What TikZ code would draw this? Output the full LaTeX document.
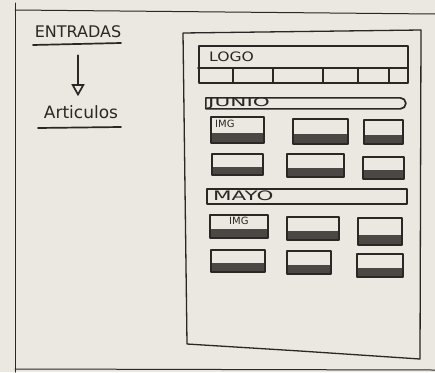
\documentclass[tikz,border=0pt]{standalone}
\usepackage{fontspec}
\usepackage{graphicx}
\setmainfont{DejaVu Sans}
\usetikzlibrary{arrows.meta,calc,shapes.misc}
\definecolor{paper}{HTML}{EAE8E1}
\definecolor{ink}{HTML}{2A2724}
\definecolor{smudge}{HTML}{4B4744}
\tikzset{
  sketch/.style={draw=ink, line width=1.7pt, line join=round, line cap=round},
  thin/.style={draw=ink, line width=1pt, line cap=round},
  hand/.style={font=\fontsize{#1}{#1}\selectfont, text=ink, inner sep=0pt},
  card/.style={sketch, rectangle, anchor=north west, inner sep=0pt,
    path picture={\fill[smudge] (path picture bounding box.south west) rectangle
      ($(path picture bounding box.south east)!0.38!(path picture bounding box.north east)$);}},
  bar/.style={sketch, anchor=north west, inner sep=0pt, minimum width=200pt}
}
\begin{document}
\begin{tikzpicture}[x=1pt, y=-1pt]
\fill[paper] (0,0) rectangle (435,372);
\useasboundingbox (0,0) rectangle (435,372);
% outer sheet
\draw[thin] (15,3) -- (15,372);
\draw[thin] (15,10) -- (435,14);
\draw[thin] (15,369) -- (435,370);
% left column
\node[hand=16] (entradas) at (78,32) {ENTRADAS};
\draw[sketch] (33,45) -- (121,43);
\node[hand=17] (articulos) at (81,112) {Articulos};
\draw[sketch] (38,128) -- (121,127);
\draw[sketch, -{Triangle[open, length=12pt, width=13pt]}, shorten <=17pt, shorten >=9pt]
  (entradas.south) -- (entradas.south |- articulos.north);
% page frame
\draw[sketch, line width=1.3pt] (183,33) -- (421,30) -- (420,359) -- (300,351) -- (187,344) -- cycle;
% header
\node[sketch, anchor=north west, inner sep=0pt, minimum width=209pt, minimum height=37pt] (logo) at (198,45) {};
\draw[sketch] (198,68) -- (407,68);
\foreach \dx in {233,273,323,358,389}
  \draw[sketch] (\dx,68) -- (\dx,82);
\node[hand=13, anchor=west] (logotext) at (209,57) {\scalebox{1.2}[1]{LOGO}};
% month bars
\node[bar, rounded rectangle, rounded rectangle left arc=none, minimum height=11pt] (junio) at (205,97) {};
\node[hand=12, anchor=west] (juniotext) at (208,103) {\scalebox{1.8}[1]{JUNIO}};
\node[bar, rectangle, minimum height=15pt] (mayo) at (206,188) {};
\node[hand=13, anchor=west] (mayotext) at (213,196) {\scalebox{1.65}[1]{MAYO}};
% article cards
\foreach \nm/\cx/\cy/\cw/\ch in {a/210/116/53/26, b/292/118/55/25, c/363/119/39/24,
    d/211/153/51/21, e/286/153/57/23, f/362/156/41/22,
    g/209/214/58/23, h/286/216/52/23, i/357/217/44/27,
    j/210/249/54/22, k/286/250/44/23, l/356/253/46/23}
  \node[card, minimum width=\cw pt, minimum height=\ch pt] (\nm) at (\cx,\cy) {};
\node[hand=10, anchor=north west] (imga) at ([shift={(5pt,-4pt)}]a.north west) {IMG};
\node[hand=10, anchor=north] (imgg) at ([yshift=-3pt]g.north) {IMG};
\end{tikzpicture}
\end{document}
